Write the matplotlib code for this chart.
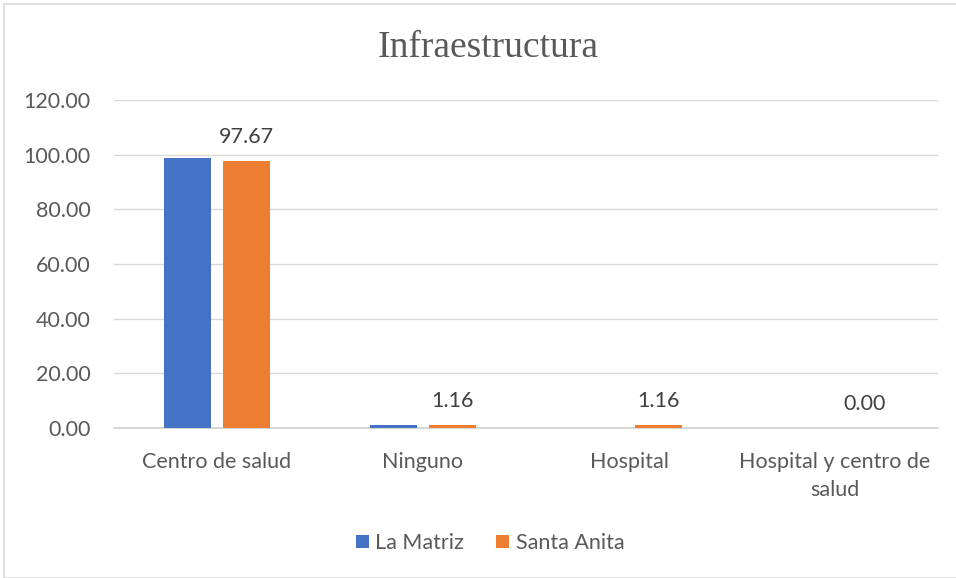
import numpy as np
import matplotlib.pyplot as plt
from matplotlib.patches import Rectangle

categories = ['Centro de salud', 'Ninguno', 'Hospital', 'Hospital y centro de\nsalud']
la_matriz = [98.84, 1.16, 0.00, 0.00]
santa_anita = [97.67, 1.16, 1.16, 0.00]
series_names = ['La Matriz', 'Santa Anita']

blue = '#4472C4'
orange = '#ED7D31'
text_col = '#595959'
fs = 15.5

plt.rcParams['font.family'] = ['Lato', 'DejaVu Sans']

fig = plt.figure(figsize=(9.56, 5.78), dpi=100)
fig.patches.append(Rectangle((4 / 956, 0), 1, 1 - 4 / 578, transform=fig.transFigure,
                             fill=False, edgecolor='#d9d9d9', linewidth=1.2))
ax = fig.add_axes([114 / 956, 150 / 578, 824 / 956, 328 / 578])

x = np.arange(len(categories))
w = 0.225
gap = 0.03
ax.bar(x - w / 2 - gap, la_matriz, w, color=blue, label=series_names[0], zorder=3)
bars = ax.bar(x + w / 2 + gap, santa_anita, w, color=orange, label=series_names[1], zorder=3)

for rect, v in zip(bars, santa_anita):
    ax.text(rect.get_x() + rect.get_width() / 2, v + 5, f'{v:.2f}',
            ha='center', va='bottom', fontsize=fs, color='#404040')

ax.set_xlim(-0.5, len(categories) - 0.5)
ax.set_ylim(0, 120)
ax.set_yticks(np.arange(0, 121, 20))
ax.set_yticklabels([f'{t:.2f}' for t in np.arange(0, 121, 20)], fontsize=fs, color=text_col)
ax.set_xticks(x)
ax.set_xticklabels(categories, fontsize=fs, color=text_col, linespacing=1.5)
ax.tick_params(axis='both', length=0)
ax.tick_params(axis='x', pad=17)
ax.tick_params(axis='y', pad=17)
ax.grid(axis='y', color='#d9d9d9', linewidth=1, zorder=0)
for s in ['top', 'right', 'left']:
    ax.spines[s].set_visible(False)
ax.spines['bottom'].set_color('#d0d0d0')
ax.spines['bottom'].set_linewidth(1.2)

fig.text(488 / 956, 1 - 48 / 578, 'Infraestructura', ha='center', va='center',
         fontsize=27, color=text_col, family='Liberation Serif')

fig.legend(loc='center', bbox_to_anchor=(490 / 956, 1 - 543 / 578), ncol=2, frameon=False,
           fontsize=fs, handlelength=0.6, handleheight=0.6, handletextpad=0.3,
           columnspacing=1.5, labelcolor=text_col)

fig.savefig('out.png', dpi=100)
